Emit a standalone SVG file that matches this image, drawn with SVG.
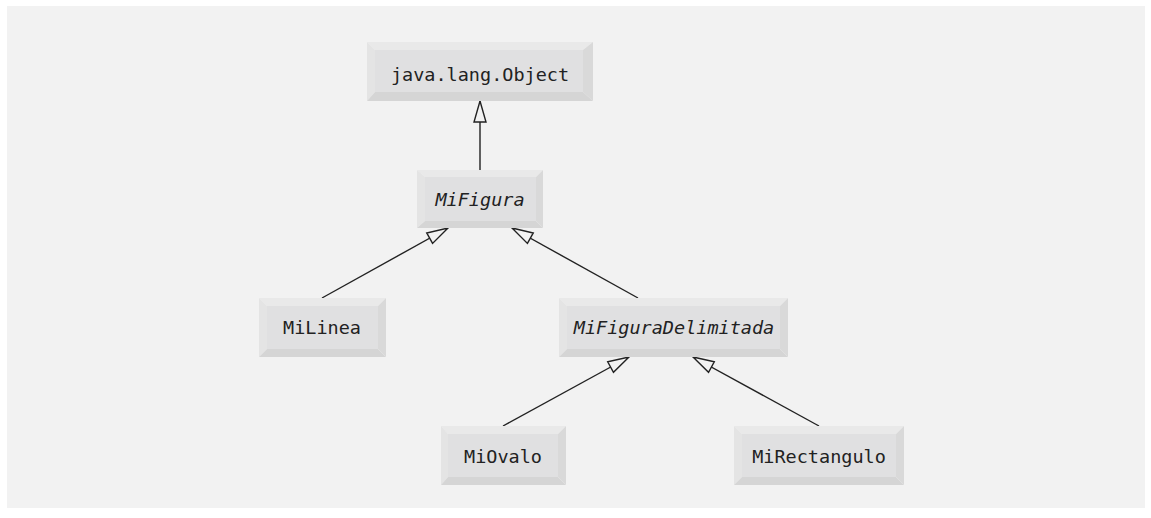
<svg xmlns="http://www.w3.org/2000/svg" width="1151" height="518" viewBox="0 0 1151 518">
<style>
.lt{fill:#e9e9e9}.ll{fill:#e4e4e4}.lb{fill:#d5d5d5}.lr{fill:#d9d9d9}.face{fill:#e0e0e1}
.t{font-family:"DejaVu Sans Mono","Liberation Mono",monospace;font-size:18.5px;fill:#222;text-anchor:middle}
.i{font-style:oblique}
.c{stroke:#222;stroke-width:1.4;fill:none}
</style>
<defs>
<marker id="tri" markerUnits="userSpaceOnUse" markerWidth="24" markerHeight="16" viewBox="-1 -8 24 16" refX="0" refY="0" orient="auto">
<path d="M0,0 L21,-6 L21,6 Z" fill="#f2f2f2" stroke="#222" stroke-width="1.4"/>
</marker>
</defs>
<rect x="0" y="0" width="1151" height="518" fill="#ffffff"/>
<rect x="7" y="6" width="1138" height="502" fill="#f2f2f2"/>
<g id="connectors">
<line class="c" x1="480" y1="101" x2="480" y2="170" marker-start="url(#tri)"/>
<line class="c" x1="448" y1="228" x2="322" y2="298" marker-start="url(#tri)"/>
<line class="c" x1="512" y1="228" x2="638" y2="298" marker-start="url(#tri)"/>
<line class="c" x1="629" y1="357" x2="503" y2="426" marker-start="url(#tri)"/>
<line class="c" x1="693" y1="357" x2="819" y2="426" marker-start="url(#tri)"/>
</g>
<g id="object">
<polygon class="lt" points="367,42 593,42 583,50 375,50"/>
<polygon class="ll" points="367,42 375,50 375,92 367,101"/>
<polygon class="lb" points="367,101 375,92 583,92 593,101"/>
<polygon class="lr" points="593,42 593,101 583,92 583,50"/>
<rect class="face" x="375" y="50" width="208" height="42"/>
<text class="t" x="480" y="81">java.lang.Object</text>
</g>
<g id="mifigura">
<polygon class="lt" points="417,170 543,170 536,177 425,177"/>
<polygon class="ll" points="417,170 425,177 425,221 417,228"/>
<polygon class="lb" points="417,228 425,221 536,221 543,228"/>
<polygon class="lr" points="543,170 543,228 536,221 536,177"/>
<rect class="face" x="425" y="177" width="111" height="44"/>
<text class="t i" x="480" y="206">MiFigura</text>
</g>
<g id="milinea">
<polygon class="lt" points="259,298 386,298 378,306 267,306"/>
<polygon class="ll" points="259,298 267,306 267,349 259,357"/>
<polygon class="lb" points="259,357 267,349 378,349 386,357"/>
<polygon class="lr" points="386,298 386,357 378,349 378,306"/>
<rect class="face" x="267" y="306" width="111" height="43"/>
<text class="t" x="322" y="334">MiLinea</text>
</g>
<g id="mifiguradelimitada">
<polygon class="lt" points="559,298 788,298 780,306 567,306"/>
<polygon class="ll" points="559,298 567,306 567,349 559,357"/>
<polygon class="lb" points="559,357 567,349 780,349 788,357"/>
<polygon class="lr" points="788,298 788,357 780,349 780,306"/>
<rect class="face" x="567" y="306" width="213" height="43"/>
<text class="t i" x="674" y="334">MiFiguraDelimitada</text>
</g>
<g id="miovalo">
<polygon class="lt" points="441,426 566,426 558,434 448,434"/>
<polygon class="ll" points="441,426 448,434 448,477 441,485"/>
<polygon class="lb" points="441,485 448,477 558,477 566,485"/>
<polygon class="lr" points="566,426 566,485 558,477 558,434"/>
<rect class="face" x="448" y="434" width="110" height="43"/>
<text class="t" x="503" y="463">MiOvalo</text>
</g>
<g id="mirectangulo">
<polygon class="lt" points="734,426 904,426 896,434 742,434"/>
<polygon class="ll" points="734,426 742,434 742,477 734,485"/>
<polygon class="lb" points="734,485 742,477 896,477 904,485"/>
<polygon class="lr" points="904,426 904,485 896,477 896,434"/>
<rect class="face" x="742" y="434" width="154" height="43"/>
<text class="t" x="819" y="463">MiRectangulo</text>
</g>
</svg>
